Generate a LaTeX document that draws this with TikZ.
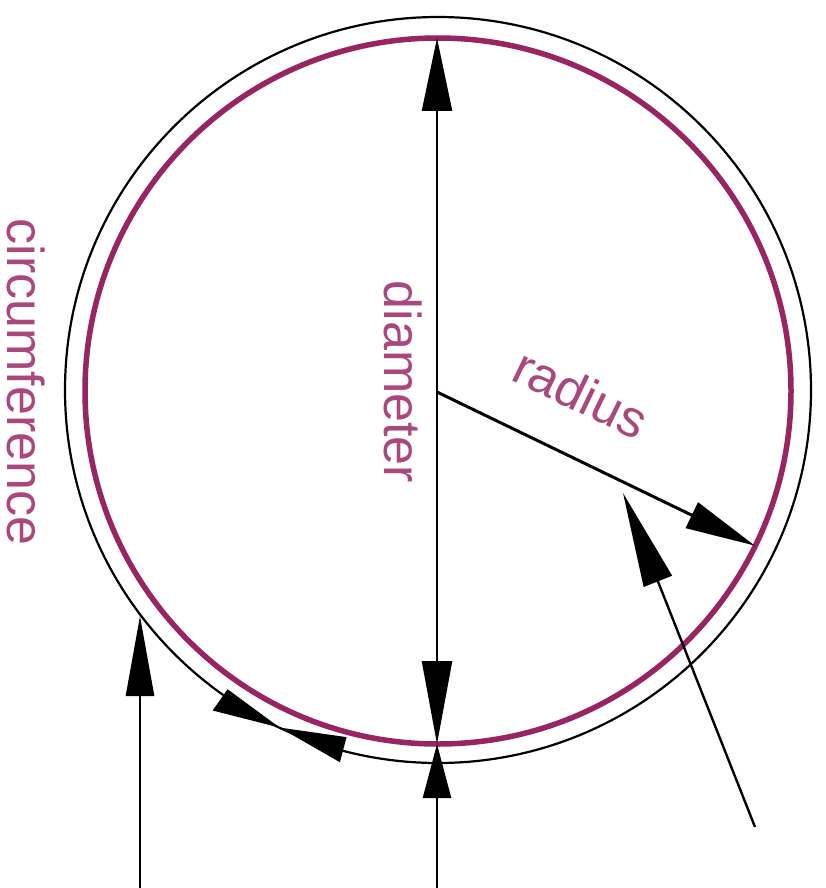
\documentclass[tikz,border=0pt]{standalone}
\usepackage{fontspec}
\setmainfont{Liberation Sans}
\usetikzlibrary{arrows.meta,calc}
\definecolor{ring}{RGB}{152,36,98}
\definecolor{lbl}{RGB}{170,72,126}
\begin{document}
\begin{tikzpicture}[x=1pt,y=-1pt,
  lbltext/.style={text=lbl, font=\fontsize{52}{60}\selectfont, inner sep=0pt},
  conn/.style={draw=black, line width=2.4pt},
  headfill/.style={fill=black}]
\useasboundingbox[fill=white] (0,0) rectangle (826,888);
\coordinate (C) at (437,392);
% circles
\draw[line width=2.2pt] (438,390) circle [radius=373pt];
\draw[ring, line width=5.5pt] (438,391) circle [radius=353pt];
% diameter
\coordinate (Dtop) at (437,38);
\coordinate (Dbot) at (437,744);
\coordinate (Bfoot) at (437,888);
\draw[conn, {Triangle[length=73pt,width=30pt]}-{Triangle[length=83pt,width=30pt]}] (Dtop) -- (Dbot);
\draw[conn, -{Triangle[length=54pt,width=28pt]}] (Bfoot) -- (Dbot);
% radius
\coordinate (Rtip) at ($(C)+(25.8:353)$);
\draw[line width=3pt, -{Triangle[length=70pt,width=28pt]}] (C) -- (Rtip);
% pointer to circle area
\coordinate (Pfoot) at (755,827);
\coordinate (Ptip) at (623,493);
\draw[conn, -{Triangle[length=95pt,width=30pt]}] (Pfoot) -- (Ptip);
% left pointer to circumference
\coordinate (Lfoot) at (140,888);
\coordinate (Ltip) at (140,616);
\draw[conn, line width=2.6pt, -{Triangle[length=80pt,width=28pt]}] (Lfoot) -- (Ltip);
% arrowheads along circumference
\begin{scope}[shift={(438,391)}]
  \fill[headfill] (125.2:365) -- (125.2:391) -- (115.2:372) -- cycle;
  \fill[headfill] (104.8:358) -- (104.8:384) -- (115.2:372) -- cycle;
\end{scope}
% labels
\node[lbltext, rotate=-90, anchor=base] (circ) at (7,382) {circumference};
\node[lbltext, rotate=-90, anchor=base] (diam) at (384,382) {diameter};
\node[lbltext, rotate=-25.8, anchor=base] (rad) at (573,410) {radius};
\end{tikzpicture}
\end{document}
